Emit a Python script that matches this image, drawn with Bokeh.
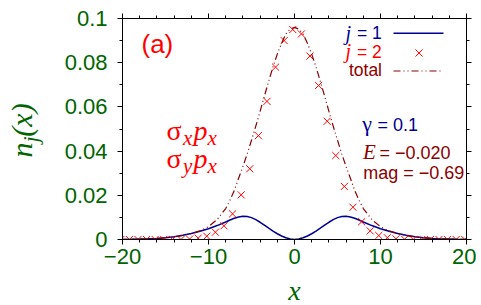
import numpy as np
from bokeh.plotting import figure
from bokeh.layouts import row, column
from bokeh.models import Range1d, LinearAxis, FixedTicker, CustomJSTickFormatter, Label
from bokeh.embed import file_html
from bokeh.resources import INLINE

# ---------------- data ----------------
x_j1 = [-20, -19, -18, -17, -16, -15, -14, -13, -12, -11, -10, -9, -8, -7.5, -7, -6.5,
        -6, -5.5, -5, -4.5, -4, -3.5, -3, -2.5, -2, -1.5, -1, -0.5, 0,
        0.5, 1, 1.5, 2, 2.5, 3, 3.5, 4, 4.5, 5, 5.5, 6, 6.5, 7, 7.5, 8,
        9, 10, 11, 12, 13, 14, 15, 16, 17, 18, 19, 20]
n_j1 = [0.00005, 0.0001, 0.0002, 0.0003, 0.0005, 0.0008, 0.0012, 0.0019, 0.0027, 0.0037,
        0.0049, 0.0063, 0.0079, 0.0088, 0.0096, 0.0102, 0.0105, 0.0104, 0.0099, 0.0090,
        0.0078, 0.0065, 0.0051, 0.0038, 0.0026, 0.0016, 0.0008, 0.0002, 0.0,
        0.0002, 0.0008, 0.0016, 0.0026, 0.0038, 0.0051, 0.0065, 0.0078, 0.0090, 0.0099,
        0.0104, 0.0105, 0.0102, 0.0096, 0.0088, 0.0079,
        0.0063, 0.0049, 0.0037, 0.0027, 0.0019, 0.0012, 0.0008, 0.0005, 0.0003, 0.0002,
        0.0001, 0.00005]

x_j2 = [-20.2, -19.2, -18.2, -17.2, -16.2, -15.2, -14.2, -13.2, -12.2, -11.2, -10.2,
        -9.2, -8.2, -7.2, -6.2, -5.2, -4.2, -3.2, -2.2, -1.2, -0.2, 0.8, 1.8, 2.8, 3.8,
        4.8, 5.8, 6.8, 7.8, 8.8, 9.8, 10.8, 11.8, 12.8, 13.8, 14.8, 15.8, 16.8, 17.8,
        18.8, 19.8]
n_j2 = [0.0, 0.0, 0.0, 0.0, 0.0, 0.0, 0.0, 0.0, 0.0002, 0.0006, 0.0015,
        0.0033, 0.0062, 0.0116, 0.0202, 0.032, 0.047, 0.0625, 0.078, 0.090, 0.095,
        0.093, 0.083, 0.0697, 0.0535, 0.038, 0.024, 0.0146, 0.0080, 0.0039, 0.0018,
        0.0008, 0.0003, 0.0001, 0.0, 0.0, 0.0, 0.0, 0.0, 0.0, 0.0]

x_tot = x_j1
n_tot = [0.00005, 0.0001, 0.0002, 0.0003, 0.0005, 0.0008, 0.0012, 0.0018, 0.0027, 0.0039,
         0.0058, 0.0090, 0.0140, 0.0178, 0.0222, 0.0277, 0.0330, 0.0387, 0.0449, 0.0513,
         0.0580, 0.0649, 0.0716, 0.0781, 0.0839, 0.0888, 0.0930, 0.0952, 0.0960,
         0.0952, 0.0930, 0.0888, 0.0839, 0.0781, 0.0716, 0.0649, 0.0580, 0.0513, 0.0449,
         0.0387, 0.0330, 0.0277, 0.0222, 0.0178, 0.0140,
         0.0090, 0.0058, 0.0039, 0.0027, 0.0018, 0.0012, 0.0008, 0.0005, 0.0003, 0.0002,
         0.0001, 0.00005]

x_major = [-20, -10, 0, 10, 20]
x_minor = [-18, -16, -14, -12, -8, -6, -4, -2, 2, 4, 6, 8, 12, 14, 16, 18]
y_major = [0, 0.02, 0.04, 0.06, 0.08, 0.1]
y_minor = [0.01, 0.03, 0.05, 0.07, 0.09]

# ---------------- colours / fonts ----------------
GREEN = "#006400"
NAVY = "#000090"
RED = "#ff0000"
DRED = "#8b0000"
SANS = "Liberation Sans"
SERIF = "Liberation Serif"

W, H = 476, 305          # whole page content
LW = 46                  # left strip holding the rotated y label
BH = 32                  # bottom strip holding the x label
PH = H - BH              # height of the main figure
FL, FR, FT, FB = 122, 466, 18, 239   # frame edges in page pixels
K = 0.345                # Label anchor sits at the text box centre: baseline correction


def tidy(fig):
    fig.background_fill_color = "white"
    fig.border_fill_color = "white"


# ---------------- main figure ----------------
p = figure(width=W - LW, height=PH, output_backend="svg", toolbar_location=None,
           x_range=Range1d(-20, 20), y_range=Range1d(0, 0.1),
           min_border_left=FL - LW, min_border_right=W - FR,
           min_border_top=FT, min_border_bottom=PH - FB)
tidy(p)
p.xgrid.visible = False
p.ygrid.visible = False
p.outline_line_color = "black"
p.outline_line_width = 1

p.add_layout(LinearAxis(), "above")
p.add_layout(LinearAxis(), "right")

xfmt = CustomJSTickFormatter(code="return tick < 0 ? '\\u2212' + Math.abs(tick) : String(tick);")
yfmt = CustomJSTickFormatter(code="return String(Math.round(tick*100)/100);")

for ax in p.xaxis:
    ax.ticker = FixedTicker(ticks=x_major, minor_ticks=x_minor)
    ax.formatter = xfmt
for ax in p.yaxis:
    ax.ticker = FixedTicker(ticks=y_major, minor_ticks=y_minor)
    ax.formatter = yfmt

for ax in p.axis:
    ax.axis_line_color = "black"
    ax.major_tick_line_color = "black"
    ax.minor_tick_line_color = "black"
    ax.major_tick_out = 5
    ax.major_tick_in = 0
    ax.minor_tick_out = 3
    ax.minor_tick_in = 0
    ax.major_label_text_font = SANS
    ax.major_label_text_font_size = "22px"
    ax.major_label_text_color = GREEN

p.below[0].major_label_standoff = 4
p.left[0].major_label_standoff = 10
for ax in (p.above[0], p.right[0]):
    ax.major_label_text_font_size = "1px"
    ax.major_label_text_color = None
    ax.major_label_standoff = 0

# ---------------- data glyphs ----------------
p.line(x_j1, n_j1, line_color=NAVY, line_width=1.5)
p.scatter(x_j2, n_j2, marker="x", size=10, line_color=RED, line_width=1)
p.line(x_tot, n_tot, line_color=DRED, line_width=1.2, line_dash="7 3 1 3 1 3")


# ---------------- helpers ----------------
def dx(px):
    return -20 + (px - FL) * 40.0 / (FR - FL)


def dy(py):
    return 0.1 * (FB - py) / (FB - FT)


def lab(px, py, text, size, color, font=SANS, style="normal", align="left"):
    # px, py: wanted baseline-left point in page pixels
    py = py - K * size
    p.add_layout(Label(x=px - FL, y=FB - py, x_units="screen", y_units="screen",
                       text=text, text_font=font,
                       text_font_size=f"{size}px", text_color=color,
                       text_font_style=style, text_align=align,
                       text_baseline="alphabetic"))


# legend (text left, sample right)
lab(345, 39, "j", 20, NAVY, SERIF, "italic")
lab(356.5, 39, "= 1", 17.5, NAVY)
lab(345, 57.5, "j", 20, RED, SERIF, "italic")
lab(356.5, 57.5, "= 2", 17.5, RED)
lab(381.5, 75.5, "total", 17.5, DRED, align="right")
p.line([dx(393), dx(443)], [dy(32.7), dy(32.7)], line_color=NAVY, line_width=1.5)
p.scatter([dx(418.5)], [dy(52.5)], marker="x", size=10, line_color=RED, line_width=1)
p.line([dx(393), dx(443)], [dy(70.5), dy(70.5)], line_color=DRED, line_width=1.2,
       line_dash="7 3 1 3 1 3")

# panel tag
lab(141, 52, "(a)", 26, RED)

# sigma labels
lab(166, 140, "σ", 28, RED, SERIF)
lab(182.5, 145, "x", 21, RED, SERIF, "italic")
lab(193, 140, "p", 28, RED, SERIF, "italic")
lab(207, 145, "x", 21, RED, SERIF, "italic")
lab(166, 168, "σ", 28, RED, SERIF)
lab(182.5, 173, "y", 21, RED, SERIF, "italic")
lab(193, 168, "p", 28, RED, SERIF, "italic")
lab(207, 173, "x", 21, RED, SERIF, "italic")

# parameters
lab(361.7, 130.5, "γ", 22, NAVY, SERIF)
lab(377, 130.5, "= 0.1", 18, NAVY)
lab(362.5, 158.3, "E", 21, DRED, SERIF, "italic")
lab(379, 158.3, "= \u22120.020", 18, DRED)
lab(362.7, 179, "mag = \u22120.69", 18, DRED)

# ---------------- left strip: rotated y label ----------------
# (its frame spans page x 0..LW and ends at the page bottom, because of row alignment)
lf = figure(width=LW, height=H, output_backend="svg", toolbar_location=None,
            x_range=Range1d(0, LW), y_range=Range1d(0, H), min_border=0,
            x_axis_type=None, y_axis_type=None)
tidy(lf)
lf.outline_line_color = None
for g in lf.grid:
    g.visible = False


def ylab(cx, cy, text, size):
    # cx, cy: wanted centre of the rotated text box, page pixels
    lf.add_layout(Label(x=cx, y=H - cy, x_units="screen", y_units="screen",
                        text=text, text_font=SERIF,
                        text_font_size=f"{size}px", text_color=GREEN,
                        text_font_style="italic", text_align="center",
                        text_baseline="middle", angle=np.pi / 2))


ylab(21, 149.5, "n", 30)
ylab(29.5, 139, "j", 22)
ylab(21, 119.5, "(x)", 30)

# ---------------- bottom strip: x label ----------------
# (its frame is aligned with the main frame: page x FL..FR, page y PH..H)
bf = figure(width=W - LW, height=BH, output_backend="svg", toolbar_location=None,
            x_range=Range1d(0, W - LW), y_range=Range1d(0, BH), min_border=0,
            x_axis_type=None, y_axis_type=None)
tidy(bf)
bf.outline_line_color = None
for g in bf.grid:
    g.visible = False
bf.add_layout(Label(x=294 - FL, y=H - 289.6, x_units="screen",
                    y_units="screen", text="x", text_font=SERIF,
                    text_font_size="28px", text_color=GREEN, text_font_style="italic",
                    text_align="center", text_baseline="middle"))

layout = row(lf, column(p, bf))
open("out.html", "w").write(file_html(layout, INLINE))
